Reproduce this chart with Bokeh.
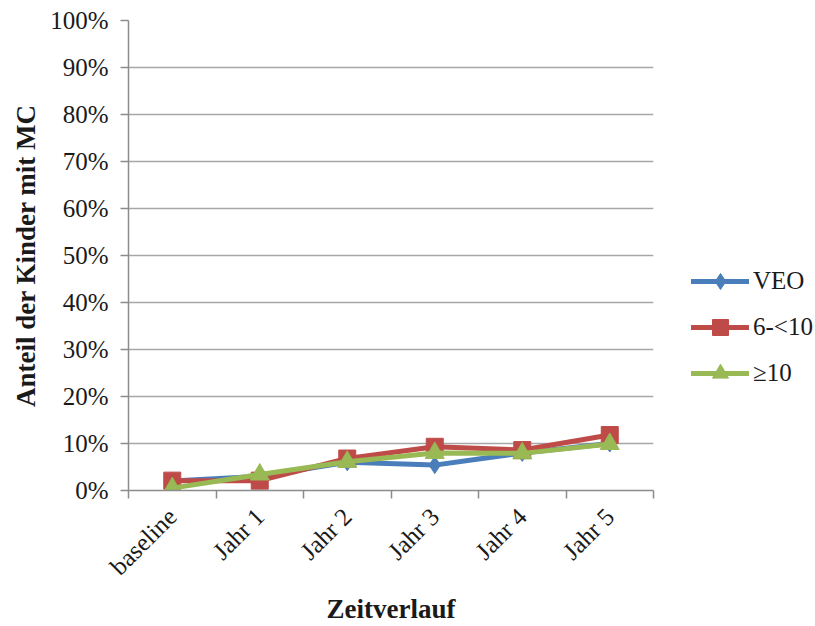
import math

from bokeh.embed import file_html
from bokeh.models import (FixedTicker, Legend, LegendItem, NumeralTickFormatter,
                          Range1d)
from bokeh.plotting import figure
from bokeh.resources import INLINE

# Time points and share of children with MC (percent) per group
categories = ["baseline", "Jahr 1", "Jahr 2", "Jahr 3", "Jahr 4", "Jahr 5"]
veo = [2.0, 3.0, 6.0, 5.4, 8.0, 10.0]
group_6_10 = [2.1, 2.1, 6.8, 9.3, 8.6, 11.8]
group_10 = [0.5, 3.4, 6.1, 8.0, 7.9, 9.9]

series_names = ["VEO", "6-<10", "\u226510"]
y_ticks = [i / 10 for i in range(11)]

FONT = "Liberation Serif"

xs = [i + 0.5 for i in range(len(categories))]

p = figure(
    frame_width=525, frame_height=470,
    min_border_left=128, min_border_right=0,
    min_border_top=20, min_border_bottom=0,
    x_range=Range1d(0, len(categories)), y_range=Range1d(0, 1),
    output_backend="svg", toolbar_location=None,
)
p.outline_line_color = None
p.background_fill_color = "white"
p.border_fill_color = "white"

# grid: horizontal lines only
p.xgrid.visible = False
p.ygrid.grid_line_color = "#A6A6A6"
p.ygrid.grid_line_width = 1.5

# y axis
p.yaxis.ticker = FixedTicker(ticks=y_ticks)
p.yaxis.formatter = NumeralTickFormatter(format="0%")
p.yaxis.axis_label = "Anteil der Kinder mit MC"
p.yaxis.axis_label_text_font = FONT
p.yaxis.axis_label_text_font_style = "bold"
p.yaxis.axis_label_text_font_size = "27px"
p.yaxis.axis_label_text_color = "#1a1a1a"
p.yaxis.axis_label_standoff = 6
p.yaxis.major_label_text_font = FONT
p.yaxis.major_label_text_font_size = "25px"
p.yaxis.major_label_text_color = "#1a1a1a"
p.yaxis.major_label_standoff = 12
p.yaxis.major_tick_out = 8
p.yaxis.major_tick_in = 0
p.yaxis.minor_tick_out = 0
p.yaxis.minor_tick_in = 0

# x axis: labels at category centres, ticks at category boundaries
p.xaxis.ticker = FixedTicker(ticks=xs, minor_ticks=list(range(len(categories) + 1)))
p.xaxis.major_label_overrides = {x: c for x, c in zip(xs, categories)}
p.xaxis.major_label_orientation = math.pi / 4
p.xaxis.axis_label = "Zeitverlauf"
p.xaxis.axis_label_text_font = FONT
p.xaxis.axis_label_text_font_style = "bold"
p.xaxis.axis_label_text_font_size = "27px"
p.xaxis.axis_label_text_color = "#1a1a1a"
p.xaxis.axis_label_standoff = 1
p.xaxis.major_label_text_font = FONT
p.xaxis.major_label_text_font_size = "25px"
p.xaxis.major_label_text_color = "#1a1a1a"
p.xaxis.major_label_standoff = 14
p.xaxis.major_tick_out = 0
p.xaxis.major_tick_in = 0
p.xaxis.minor_tick_out = 8
p.xaxis.minor_tick_in = 0

for ax in (p.xaxis, p.yaxis):
    ax.axis_line_color = "#8C8C8C"
    ax.axis_line_width = 1.5
    ax.major_tick_line_color = "#8C8C8C"
    ax.major_tick_line_width = 1.5
    ax.minor_tick_line_color = "#8C8C8C"
    ax.minor_tick_line_width = 1.5

colors = ["#4A7EBB", "#BE4B48", "#98B954"]
markers = ["diamond", "square", "triangle"]
sizes = [17, 17, 19]
data = [veo, group_6_10, group_10]

items = []
for name, vals, col, mk, sz in zip(series_names, data, colors, markers, sizes):
    ys = [v / 100 for v in vals]
    ln = p.line(xs, ys, line_color=col, line_width=5, line_join="round", line_cap="round")
    sc = p.scatter(xs, ys, marker=mk, size=sz, fill_color=col, line_color=col)
    items.append(LegendItem(label=name, renderers=[ln, sc]))

# legend sits in its own panel to the right of the frame
legend = Legend(items=items, location=(38, 97))
legend.label_text_font = FONT
legend.label_text_font_size = "25px"
legend.label_text_color = "#1a1a1a"
legend.glyph_width = 58
legend.glyph_height = 40
legend.spacing = 6
legend.label_standoff = 4
legend.margin = 0
legend.padding = 10
legend.border_line_color = None
legend.background_fill_alpha = 0
p.add_layout(legend, "right")

open("out.html", "w").write(file_html(p, INLINE))
